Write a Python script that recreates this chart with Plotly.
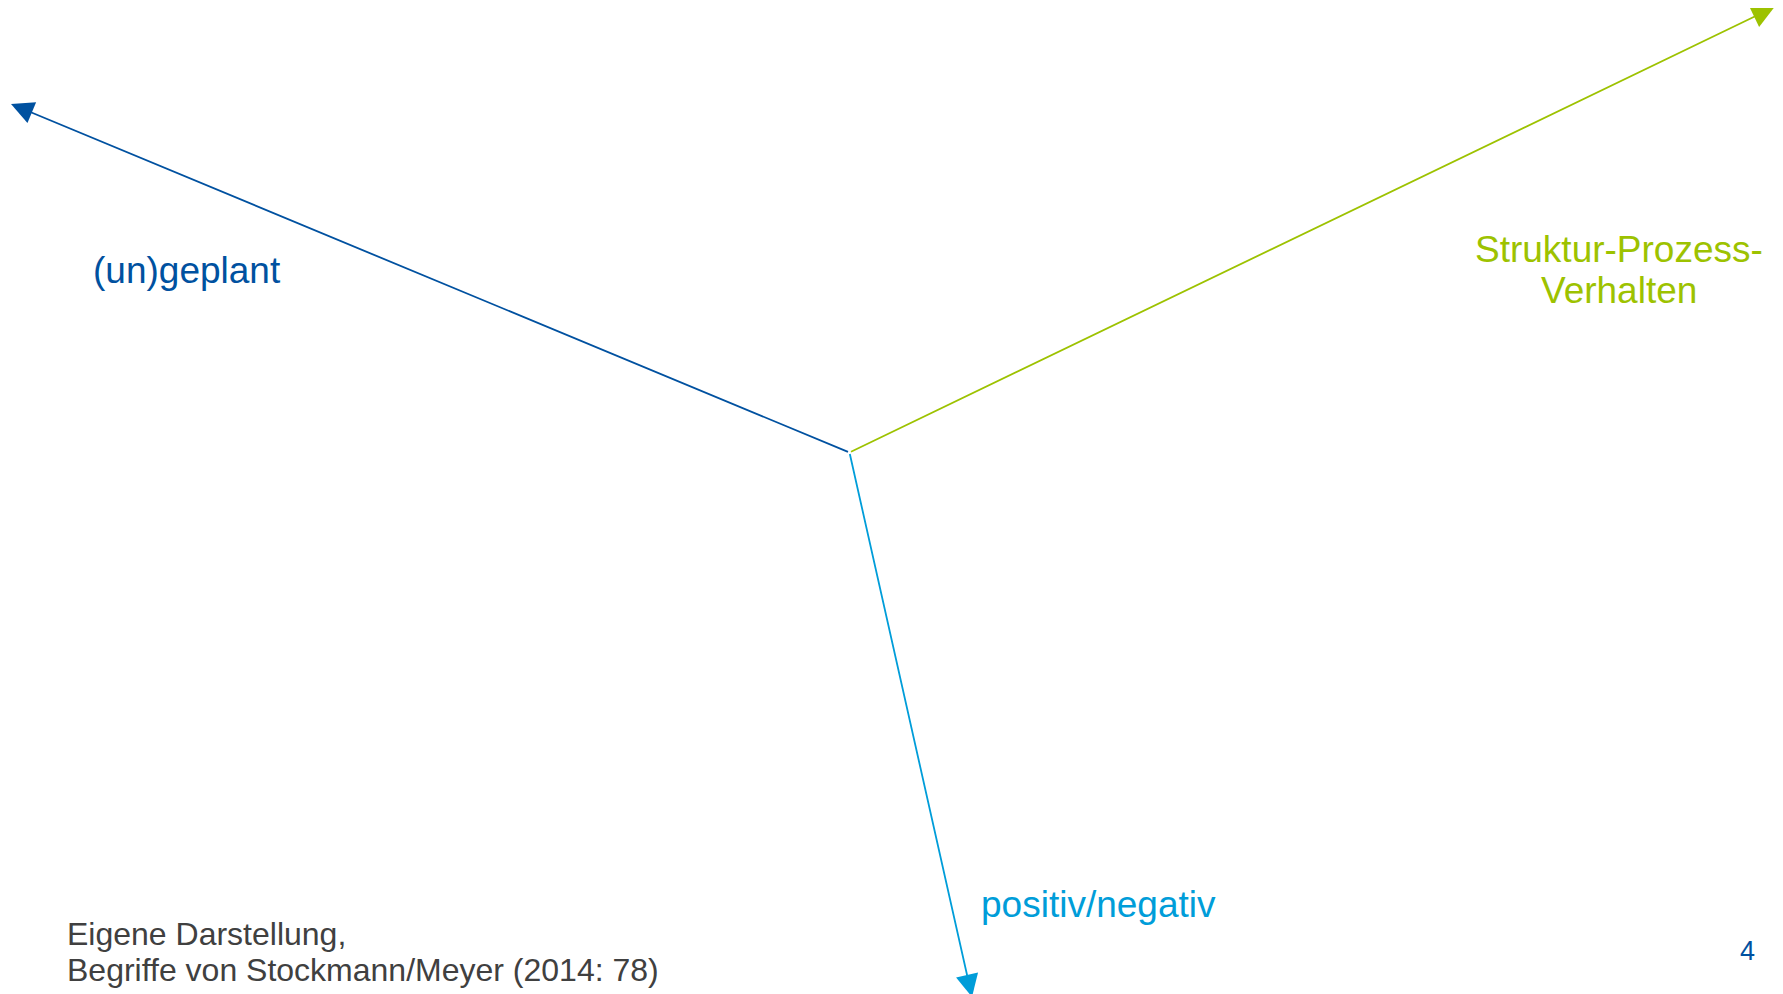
import plotly.graph_objects as go

# Diagram data (pixel-space coordinates of a 1783x994 canvas)
origin = (849.5, 452.5)
axis_names = ["(un)geplant", "Struktur-Prozess-Verhalten", "positiv/negativ"]
axis_tips_x = [11.0, 1774.5, 972.0]
axis_tips_y = [104.0, 7.0, 997.0]
axis_colors = ["#0051a0", "#9dc200", "#009dd9"]

label_lines = [["(un)geplant"], ["Struktur-Prozess-", "Verhalten"], ["positiv/negativ"]]
label_x = [187.0, 1618.5, 1098.0]
label_y = [270.0, 249.0, 904.0]
label_line_gap = 41.5

source_lines = ["Eigene Darstellung,", "Begriffe von Stockmann/Meyer (2014: 78)"]
source_x = 65.0
source_y = [933.5, 970.0]
page_number = "4"

W, H = 1783, 994
OFF = 8  # default page body margin of the HTML page
FONT = "Arial, 'Liberation Sans', Helvetica, sans-serif"

fig = go.Figure()
# invisible trace to establish axes
fig.add_trace(go.Scatter(x=[0, W], y=[0, H], mode="markers",
                         marker=dict(opacity=0), hoverinfo="skip", showlegend=False))

annotations = []
for tx, ty, col in zip(axis_tips_x, axis_tips_y, axis_colors):
    annotations.append(dict(
        x=tx, y=ty, ax=origin[0], ay=origin[1],
        xref="x", yref="y", axref="x", ayref="y",
        showarrow=True, arrowhead=2, arrowsize=2.5, arrowwidth=1.8,
        arrowcolor=col, text="", standoff=0, startstandoff=0,
    ))

for lines, lx, ly, col in zip(label_lines, label_x, label_y, axis_colors):
    for i, line in enumerate(lines):
        annotations.append(dict(
            x=lx, y=ly + i * label_line_gap, xref="x", yref="y",
            text=line, showarrow=False, xanchor="center", yanchor="middle",
            font=dict(family=FONT, size=37, color=col),
        ))

for line, sy in zip(source_lines, source_y):
    annotations.append(dict(
        x=source_x, y=sy, xref="x", yref="y", text=line, showarrow=False,
        xanchor="left", yanchor="middle",
        font=dict(family=FONT, size=32, color="#404040"),
    ))

annotations.append(dict(
    x=1747, y=951, xref="x", yref="y", text=page_number, showarrow=False,
    xanchor="center", yanchor="middle",
    font=dict(family=FONT, size=27, color="#0051a0"),
))

fig.update_layout(
    width=W, height=H,
    margin=dict(l=0, r=0, t=0, b=0),
    paper_bgcolor="white", plot_bgcolor="white",
    xaxis=dict(range=[OFF, W + OFF], visible=False, fixedrange=True),
    yaxis=dict(range=[H + OFF, OFF], visible=False, fixedrange=True),
    annotations=annotations,
    showlegend=False,
)

fig.write_html("out.html", config={"displayModeBar": False})
